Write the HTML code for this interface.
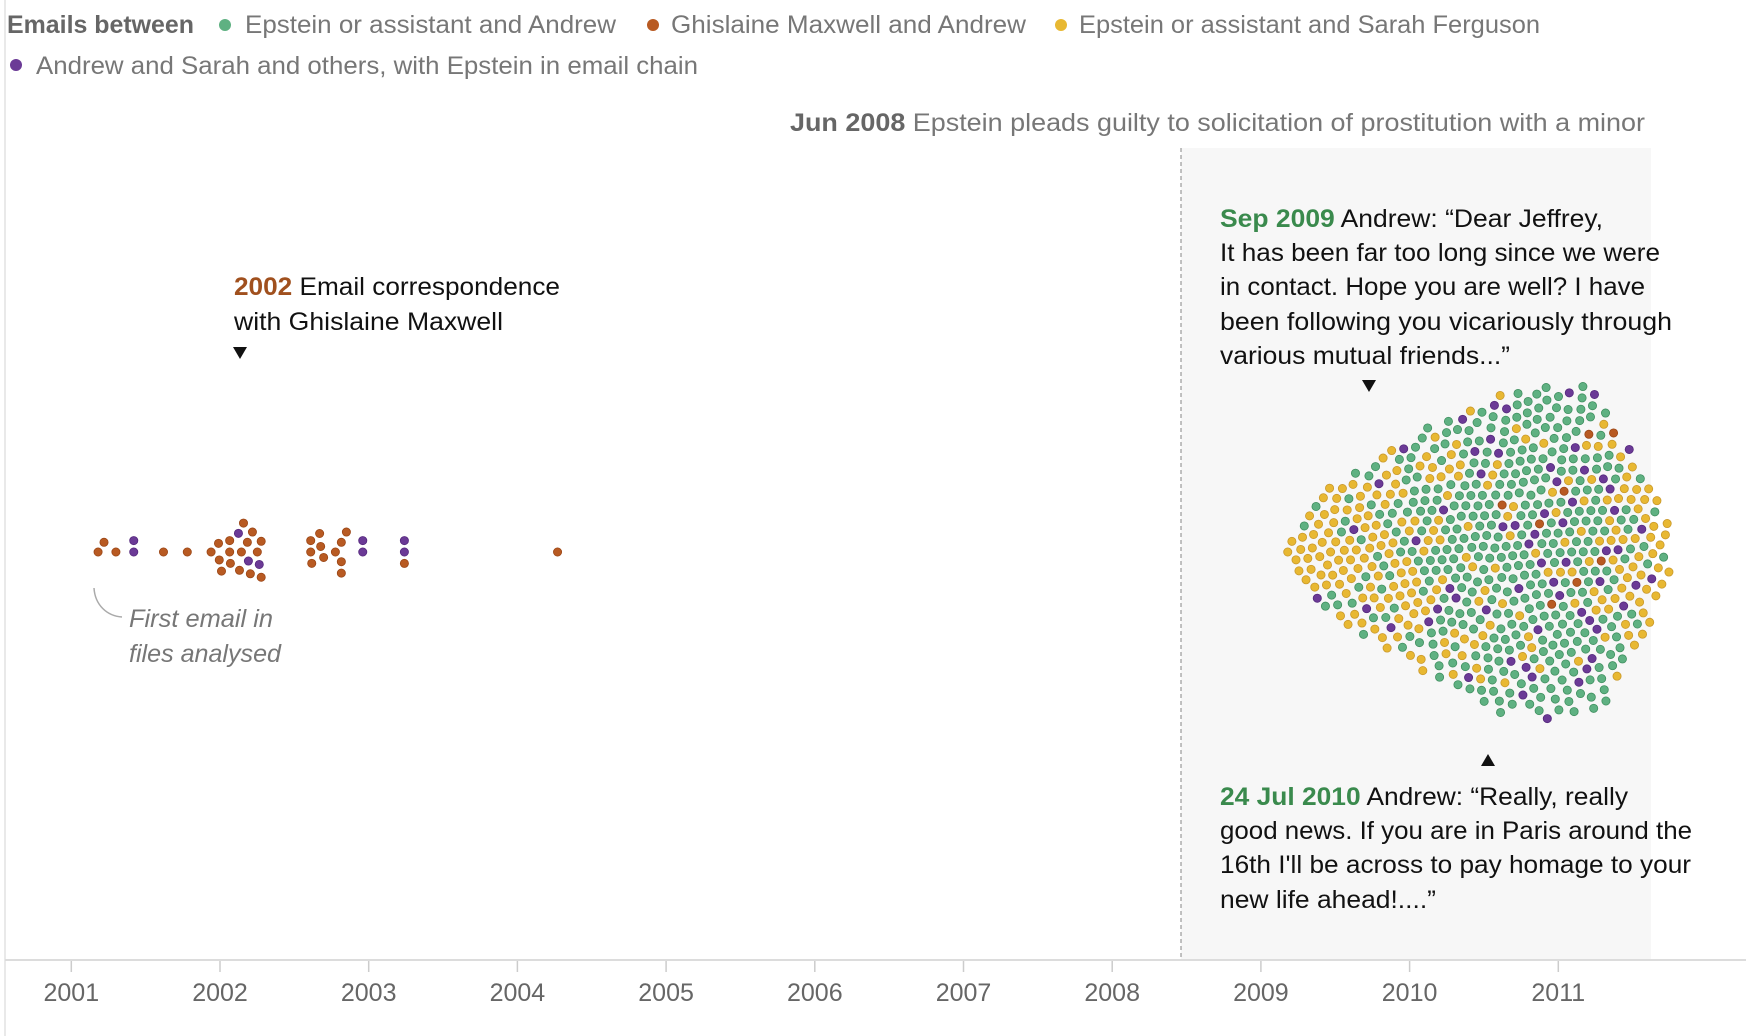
<!DOCTYPE html>
<html><head><meta charset="utf-8"><style>
html,body{margin:0;padding:0;background:#fff;}
svg{display:block;font-family:"Liberation Sans",sans-serif;}
</style></head><body>
<svg id="chart" width="1746" height="1036" viewBox="0 0 1746 1036">
  <line x1="5" y1="0" x2="5" y2="1036" stroke="#e2e2e2" stroke-width="1.5"/>
  <rect x="1181" y="148" width="470" height="812" fill="#f7f7f7"/>
  <line x1="1181" y1="148" x2="1181" y2="960" stroke="#999" stroke-width="1.2" stroke-dasharray="4,3"/>
  <line x1="5" y1="960" x2="1746" y2="960" stroke="#dcdcdc" stroke-width="2"/>
  <g id="ticks"></g>
  <g id="dots"></g>

  <g font-size="25">
    <text x="7" y="33" fill="#666" font-weight="bold" textLength="187" lengthAdjust="spacingAndGlyphs">Emails between</text>
    <circle cx="225" cy="25" r="6" fill="#5fb182"/>
    <text x="245" y="33" fill="#777" textLength="371" lengthAdjust="spacingAndGlyphs">Epstein or assistant and Andrew</text>
    <circle cx="653" cy="25" r="6" fill="#b85a22"/>
    <text x="671" y="33" fill="#777" textLength="355" lengthAdjust="spacingAndGlyphs">Ghislaine Maxwell and Andrew</text>
    <circle cx="1061" cy="25" r="6" fill="#e8b832"/>
    <text x="1079" y="33" fill="#777" textLength="461" lengthAdjust="spacingAndGlyphs">Epstein or assistant and Sarah Ferguson</text>
    <circle cx="16" cy="65" r="6" fill="#6b3a96"/>
    <text x="36" y="74" fill="#777" textLength="662" lengthAdjust="spacingAndGlyphs">Andrew and Sarah and others, with Epstein in email chain</text>
  </g>

  <text x="790" y="131" font-size="25" fill="#777" textLength="855" lengthAdjust="spacingAndGlyphs"><tspan font-weight="bold" fill="#666">Jun 2008</tspan> Epstein pleads guilty to solicitation of prostitution with a minor</text>

  <g font-size="25" fill="#111">
    <text x="234" y="295" textLength="326" lengthAdjust="spacingAndGlyphs"><tspan font-weight="bold" fill="#a0501e">2002</tspan> Email correspondence</text>
    <text x="234" y="330" textLength="269" lengthAdjust="spacingAndGlyphs">with Ghislaine Maxwell</text>
    <path d="M233,347 L247,347 L240,359 Z" fill="#111"/>
  </g>

  <g font-size="25" fill="#111">
    <text x="1220" y="227" textLength="383" lengthAdjust="spacingAndGlyphs"><tspan font-weight="bold" fill="#3a8a4d">Sep 2009</tspan> Andrew: “Dear Jeffrey,</text>
    <text x="1220" y="261" textLength="440" lengthAdjust="spacingAndGlyphs">It has been far too long since we were</text>
    <text x="1220" y="295" textLength="425" lengthAdjust="spacingAndGlyphs">in contact. Hope you are well? I have</text>
    <text x="1220" y="330" textLength="452" lengthAdjust="spacingAndGlyphs">been following you vicariously through</text>
    <text x="1220" y="364" textLength="290" lengthAdjust="spacingAndGlyphs">various mutual friends...”</text>
    <path d="M1362,380 L1376,380 L1369,392 Z" fill="#111"/>
  </g>

  <g font-size="25" fill="#111">
    <path d="M1481,766 L1495,766 L1488,754 Z" fill="#111"/>
    <text x="1220" y="805" textLength="408" lengthAdjust="spacingAndGlyphs"><tspan font-weight="bold" fill="#3a8a4d">24 Jul 2010</tspan> Andrew: “Really, really</text>
    <text x="1220" y="839" textLength="472" lengthAdjust="spacingAndGlyphs">good news. If you are in Paris around the</text>
    <text x="1220" y="873" textLength="471" lengthAdjust="spacingAndGlyphs">16th I'll be across to pay homage to your</text>
    <text x="1220" y="908" textLength="216" lengthAdjust="spacingAndGlyphs">new life ahead!....”</text>
  </g>

  <g font-size="25" fill="#777" font-style="italic">
    <path d="M94,588 C95,605 107,616 122,617" fill="none" stroke="#aaa" stroke-width="1.5"/>
    <text x="129" y="627" textLength="144" lengthAdjust="spacingAndGlyphs">First email in</text>
    <text x="129" y="662" textLength="152" lengthAdjust="spacingAndGlyphs">files analysed</text>
  </g>
</svg>
<script>
// ---- data ----
const tickYears = [2001,2002,2003,2004,2005,2006,2007,2008,2009,2010,2011];
// early individual emails (decimal year) and category
const earlyDates = [2001.18,2001.22,2001.30,2001.42,2001.42,2001.62,2001.78,
  2001.94,2002.01,2002.065,2001.99,2001.995,2002.07,2002.065,2002.124,2002.131,2002.184,2002.191,2002.204,2002.144,2002.158,2002.218,2002.251,2002.264,2002.277,2002.277,
  2002.610,2002.697,2002.670,2002.610,2002.617,2002.677,2002.776,2002.816,2002.850,2002.816,2002.816,
  2002.96,2002.96,2003.24,2003.24,2003.24,2004.27];
const earlyCats = ['O','O','O','P','P','O','O',
  'O','O','O','O','O','O','O','P','O','O','P','O','O','O','O','O','P','O','O',
  'O','O','O','O','O','O','O','O','O','O','O',
  'P','P','P','P','O','O'];
// monthly counts Mar 2009 .. Sep 2011
const clusterMonths = ['2009-03','2009-04','2009-05','2009-06','2009-07','2009-08','2009-09','2009-10','2009-11','2009-12',
  '2010-01','2010-02','2010-03','2010-04','2010-05','2010-06','2010-07','2010-08','2010-09','2010-10','2010-11','2010-12',
  '2011-01','2011-02','2011-03','2011-04','2011-05','2011-06','2011-07','2011-08','2011-09'];
const greenCounts  = [0,1,1,2,3,4,5,6,6,8,11,13,15,17,19,20,21,22,23,23,24,23,23,22,20,17,11,7,4,2,1];
const orangeCounts = [0,0,0,0,0,0,0,0,0,0,0,0,0,0,0,0,0,1,0,0,1,1,1,1,1,1,1,0,0,0,0];
const yellowCounts = [3,6,8,10,10,10,10,11,12,11,10,9,8,7,6,6,5,5,4,4,3,3,3,4,5,7,10,11,11,9,6];
const purpleCounts = [0,0,1,0,0,1,1,1,1,1,1,1,2,2,2,2,3,3,3,4,4,4,4,4,5,4,3,2,2,1,0];

// ---- scales ----
const X0 = 71.3, PER_YEAR = 148.7, CY = 552, D = 11.4, R = 4.1;
const xScale = y => X0 + (y - 2001) * PER_YEAR;
const colors = {G:['#5fb182','#3f8f5f'],O:['#b85a22','#9a4515'],Y:['#e8b832','#c9982a'],P:['#6b3a96','#55287d']};
const NS = 'http://www.w3.org/2000/svg';

// ticks
const tg = document.getElementById('ticks');
tickYears.forEach(yr => {
  const x = xScale(yr);
  const l = document.createElementNS(NS,'line');
  l.setAttribute('x1',x); l.setAttribute('x2',x); l.setAttribute('y1',961); l.setAttribute('y2',972);
  l.setAttribute('stroke','#ccc'); l.setAttribute('stroke-width','1.5');
  
  
  tg.appendChild(l);
  const t = document.createElementNS(NS,'text');
  t.setAttribute('x',x); t.setAttribute('y',1001); t.setAttribute('text-anchor','middle');
  t.setAttribute('font-size','25'); t.setAttribute('fill','#666');
  t.textContent = yr;
  
  
  tg.appendChild(t);
});

// build dot list
const dots = [];
earlyDates.forEach((d,i) => dots.push({x:xScale(d), c:earlyCats[i]}));
clusterMonths.forEach((m,mi) => {
  const yr = +m.slice(0,4), mo = +m.slice(5,7);
  const list = [];
  [['G',greenCounts],['O',orangeCounts],['Y',yellowCounts],['P',purpleCounts]].forEach(([c,arr]) => {
    const n = arr[mi];
    for (let k=0;k<n;k++) list.push({c, key:(k+0.5)/n + (c==='G'?0.001:c==='Y'?0.002:c==='P'?0.003:0)});
  });
  list.sort((a,b)=>a.key-b.key);
  const n = list.length;
  list.forEach((d,i) => dots.push({x:xScale(yr + (mo-1 + (i+0.5)/n)/12), c:d.c}));
});
dots.sort((a,b)=>a.x-b.x);

// beeswarm placement
const placed = [];
dots.forEach(d => {
  const cands = [CY], ivs = [];
  for (let j=placed.length-1;j>=0;j--) {
    const p = placed[j], dx = d.x - p.x;
    if (dx >= D) break;
    const h = Math.sqrt(D*D - dx*dx);
    ivs.push([p.y-h, p.y+h]);
    cands.push(p.y-h, p.y+h);
  }
  cands.sort((a,b)=>Math.abs(a-CY)-Math.abs(b-CY));
  let y = CY;
  for (const c of cands) {
    if (!ivs.some(iv => c > iv[0]+1e-6 && c < iv[1]-1e-6)) { y = c; break; }
  }
  d.y = y;
  placed.push(d);
});

const dg = document.getElementById('dots');
dots.forEach(d => {
  const c = document.createElementNS(NS,'circle');
  c.setAttribute('cx', d.x.toFixed(2)); c.setAttribute('cy', d.y.toFixed(2)); c.setAttribute('r', R);
  c.setAttribute('fill', colors[d.c][0]); c.setAttribute('stroke', colors[d.c][1]); c.setAttribute('stroke-width','0.8');
  
  
  dg.appendChild(c);
});
</script>
</body></html>
